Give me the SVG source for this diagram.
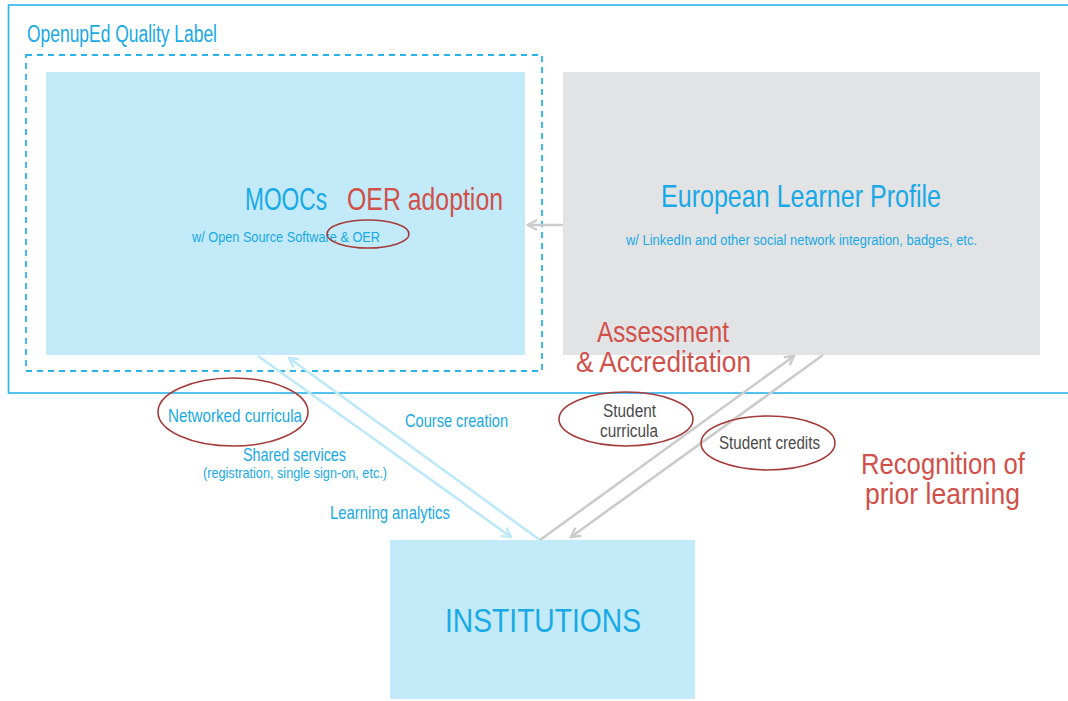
<svg xmlns="http://www.w3.org/2000/svg" width="1068" height="701" viewBox="0 0 1068 701">
<style>
text{font-family:"Liberation Sans",Arial,sans-serif;}
.b{fill:#18a9e6;}
.r{fill:#d1504a;}
.d{fill:#4a4a4a;}
.ell{fill:none;stroke:#a63b3b;stroke-width:1.6;}
.bl{stroke:#bde8f8;stroke-width:2.6;fill:none;}
.gl{stroke:#cbcbcb;stroke-width:2.6;fill:none;}
</style>
<defs>
<marker id="ab" markerWidth="14" markerHeight="14" refX="10" refY="6" orient="auto" markerUnits="userSpaceOnUse" viewBox="0 0 14 12">
<path d="M1,1 L10,6 L1,11" fill="none" stroke="#bde8f8" stroke-width="2.4"/>
</marker>
<marker id="ag" markerWidth="14" markerHeight="14" refX="10" refY="6" orient="auto" markerUnits="userSpaceOnUse" viewBox="0 0 14 12">
<path d="M1,1 L10,6 L1,11" fill="none" stroke="#cbcbcb" stroke-width="2.4"/>
</marker>
</defs>
<rect width="1068" height="701" fill="#ffffff"/>
<g id="quality-label">
<rect x="8.5" y="5" width="1070" height="388" fill="none" stroke="#29b3ec" stroke-width="1.6"/>
<text x="27" y="42" font-size="23.5" class="b" textLength="190" lengthAdjust="spacingAndGlyphs">OpenupEd Quality Label</text>
<rect x="26" y="55" width="516" height="316" fill="none" stroke="#29b3ec" stroke-width="1.8" stroke-dasharray="6,5"/>
</g>
<g id="moocs">
<rect x="46" y="72" width="479" height="283" fill="#c2eaf9"/>
<text x="245" y="210" font-size="31" class="b" textLength="82" lengthAdjust="spacingAndGlyphs">MOOCs</text>
<text x="347" y="210" font-size="31" class="r" textLength="156" lengthAdjust="spacingAndGlyphs">OER adoption</text>
<text x="192" y="242" font-size="15.5" class="b" textLength="188" lengthAdjust="spacingAndGlyphs">w/ Open Source Software &amp; OER</text>
<ellipse cx="368" cy="234" rx="41" ry="14" class="ell"/>
</g>
<g id="european-learner-profile">
<rect x="563" y="72" width="477" height="283" fill="#e2e3e5"/>
<text x="661" y="207" font-size="30.5" class="b" textLength="280" lengthAdjust="spacingAndGlyphs">European Learner Profile</text>
<text x="626" y="245" font-size="14" class="b" textLength="351" lengthAdjust="spacingAndGlyphs">w/ LinkedIn and other social network integration, badges, etc.</text>
</g>
<g id="assessment">
<text x="597" y="342" font-size="30" class="r" textLength="132" lengthAdjust="spacingAndGlyphs">Assessment</text>
<text x="576" y="372" font-size="30" class="r" textLength="175" lengthAdjust="spacingAndGlyphs">&amp; Accreditation</text>
</g>
<g id="institutions">
<rect x="390" y="540" width="305" height="159" fill="#c2eaf9"/>
<text x="445" y="632" font-size="33" class="b" textLength="196" lengthAdjust="spacingAndGlyphs">INSTITUTIONS</text>
</g>
<g id="recognition">
<text x="861" y="474" font-size="30" class="r" textLength="164" lengthAdjust="spacingAndGlyphs">Recognition of</text>
<text x="865" y="504" font-size="30" class="r" textLength="155" lengthAdjust="spacingAndGlyphs">prior learning</text>
</g>
<g id="connectors">
<line x1="563" y1="225" x2="528" y2="225" class="gl" marker-end="url(#ag)"/>
<line x1="258" y1="356" x2="511" y2="537" class="bl" marker-end="url(#ab)"/>
<line x1="540" y1="540" x2="289" y2="358" class="bl" marker-end="url(#ab)"/>
<line x1="540" y1="540" x2="794" y2="356" class="gl" marker-end="url(#ag)"/>
<line x1="823" y1="355" x2="571" y2="537" class="gl" marker-end="url(#ag)"/>
</g>
<g id="labels">
<ellipse cx="233" cy="412" rx="75" ry="34" class="ell"/>
<text x="168" y="422" font-size="18.5" class="b" textLength="134" lengthAdjust="spacingAndGlyphs">Networked curricula</text>
<text x="405" y="427" font-size="18.5" class="b" textLength="103" lengthAdjust="spacingAndGlyphs">Course creation</text>
<text x="243" y="461" font-size="18.5" class="b" textLength="103" lengthAdjust="spacingAndGlyphs">Shared services</text>
<text x="203" y="478" font-size="14.5" class="b" textLength="184" lengthAdjust="spacingAndGlyphs">(registration, single sign-on, etc.)</text>
<text x="330" y="519" font-size="18.5" class="b" textLength="120" lengthAdjust="spacingAndGlyphs">Learning analytics</text>
<ellipse cx="626" cy="419" rx="67" ry="27" class="ell"/>
<text x="603" y="417" font-size="17.5" class="d" textLength="53" lengthAdjust="spacingAndGlyphs">Student</text>
<text x="600" y="437" font-size="17.5" class="d" textLength="58" lengthAdjust="spacingAndGlyphs">curricula</text>
<ellipse cx="768" cy="443" rx="67" ry="27" class="ell"/>
<text x="719" y="449" font-size="17.5" class="d" textLength="101" lengthAdjust="spacingAndGlyphs">Student credits</text>
</g>
</svg>
